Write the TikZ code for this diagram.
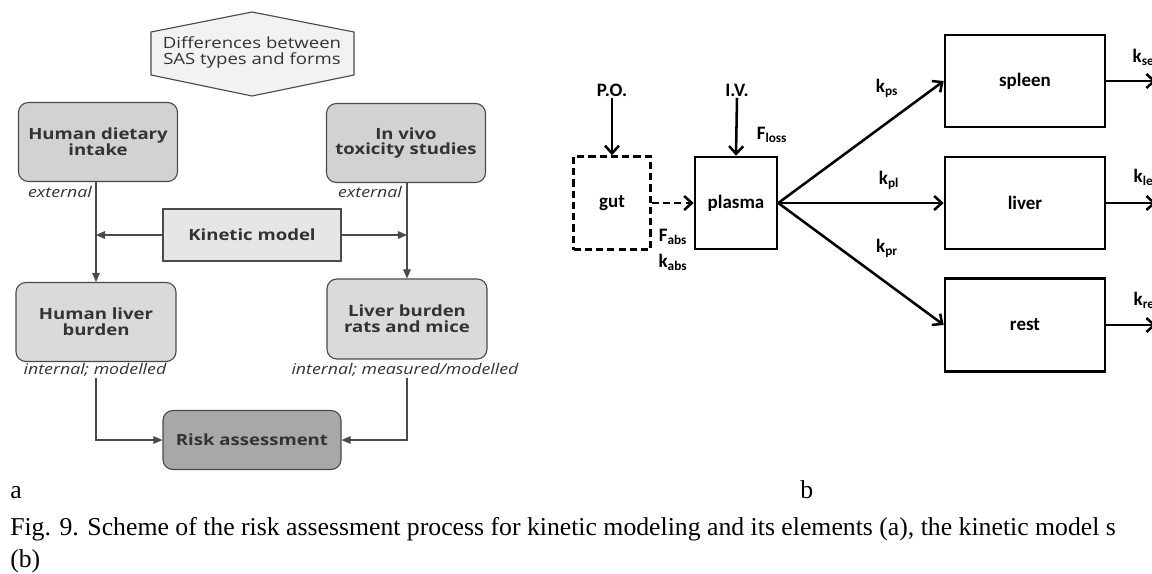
\documentclass[tikz,border=0pt]{standalone}
\usepackage{fontspec}
\setmainfont{Liberation Serif}
\newfontfamily\afont[FakeStretch=1.2]{Open Sans}
\newfontfamily\bfont{Carlito}
\usepackage{tikz}
\usetikzlibrary{arrows.meta,calc,positioning}

\newcommand{\pu}{0.025cm}
\definecolor{aline}{HTML}{4A4A4A}
\definecolor{atxt}{HTML}{333333}
\definecolor{topfill}{HTML}{D2D2D2}
\definecolor{lowfill}{HTML}{DADADA}
\definecolor{kinfill}{HTML}{E6E6E6}
\definecolor{hexfill}{HTML}{F2F2F2}
\definecolor{riskfill}{HTML}{A8A8A8}

\begin{document}
\begin{tikzpicture}[x=0.025cm,y=-0.025cm,
        abox/.style={draw=aline, line width=0.8pt, rounded corners=7pt, text=atxt, align=center,
            font=\afont\bfseries\fontsize{11}{11.3}\selectfont, inner sep=0pt},
        anote/.style={text=atxt, font=\afont\itshape\fontsize{10.5}{12}\selectfont, inner sep=1pt},
        aarrow/.style={draw=aline, line width=0.8pt, -{Triangle[length=6.5pt,width=5.5pt]}},
        bbox/.style={draw, line width=1.8pt, inner sep=0pt},
        btext/.style={font=\bfont\bfseries\fontsize{13.5}{15}\selectfont, inner sep=1pt},
        barrow/.style={line width=1.8pt, -{Straight Barb[length=5.5pt,width=10pt,line width=1.8pt]}},
        caption/.style={font=\fontsize{18.3}{22}\selectfont, inner sep=0pt}]
    \useasboundingbox (0,0) rectangle (1152,573);
    \clip (0,0) rectangle (1152,573);

    % part a
    \draw[draw=aline, line width=0.8pt, fill=hexfill] (151,32) -- (252,12) -- (354,32) -- (354,75) -- (252,96) -- (151,75) -- cycle;
    \node[text=atxt, align=center, font=\afont\fontsize{11}{11.3}\selectfont] (diff) at (252,52) {Differences between\\SAS types and forms};

    \node[abox, fill=topfill, minimum width=159*\pu, minimum height=79*\pu] (dietary) at (98,142) {Human dietary\\intake};
    \node[abox, fill=topfill, minimum width=159*\pu, minimum height=79*\pu] (invivo) at (406,143) {In vivo\\toxicity studies};
    \node[abox, fill=kinfill, rounded corners=0pt, minimum width=178*\pu, minimum height=52*\pu] (kinetic) at (252,235) {Kinetic model};
    \node[abox, fill=lowfill, minimum width=160*\pu, minimum height=79*\pu] (humliver) at (96,322) {Human liver\\burden};
    \node[abox, fill=lowfill, minimum width=160*\pu, minimum height=80*\pu] (ratliver) at (407,319) {Liver burden\\rats and mice};
    \node[abox, fill=riskfill, minimum width=178*\pu, minimum height=59*\pu] (risk) at (252,440) {Risk assessment};

    \node[anote] (extl) at (60,192) {external};
    \node[anote] (extr) at (370,192) {external};
    \node[anote] (humlab) at (95,370) {internal; modelled};
    \node[anote] (ratlab) at (405,370) {internal; measured/modelled};

    \draw[aarrow] (dietary.south -| humliver.north) -- (humliver.north);
    \draw[aarrow] (invivo.south -| ratliver.north) -- (ratliver.north);
    \draw[aarrow] (kinetic.west) -- (kinetic.west -| humliver.north);
    \draw[aarrow] (kinetic.east) -- (kinetic.east -| ratliver.north);
    \draw[aarrow] (humlab.south -| humliver.south) |- (risk.west);
    \draw[aarrow] (ratlab.south -| ratliver.south) |- (risk.east);

    % part b
    \node[bbox, dash pattern=on 5pt off 3pt, minimum width=77*\pu, minimum height=93*\pu, btext] (gut) at (612,203) {gut};
    \node[bbox, minimum width=82*\pu, minimum height=92*\pu, btext] (plasma) at (736,203) {plasma};
    \node[bbox, minimum width=160*\pu, minimum height=92*\pu, btext] (spleen) at (1025,81) {spleen};
    \node[bbox, minimum width=160*\pu, minimum height=92*\pu, btext] (liver) at (1025,203) {liver};
    \node[bbox, minimum width=160*\pu, minimum height=93*\pu, btext] (rest) at (1025,325) {rest};

    \node[btext] (po) at (612,90) {P.O.};
    \node[btext] (iv) at (737,90) {I.V.};
    \node[btext] (floss) at (772,135) {F\textsubscript{loss}};
    \node[btext] (fabs) at (673,237) {F\textsubscript{abs}};
    \node[btext] (kabs) at (673,262) {k\textsubscript{abs}};
    \node[btext] (kps) at (887,88) {k\textsubscript{ps}};
    \node[btext] (kpl) at (889,180) {k\textsubscript{pl}};
    \node[btext] (kpr) at (887,248) {k\textsubscript{pr}};
    \node[btext, anchor=west] (kse) at (1131,57) {k\textsubscript{se}};
    \node[btext, anchor=west] (kle) at (1132,177) {k\textsubscript{le}};
    \node[btext, anchor=west] (kre) at (1132,300) {k\textsubscript{re}};

    \coordinate (seout) at (1156,81);
    \coordinate (leout) at (1156,203);
    \coordinate (reout) at (1156,325);

    \draw[barrow] (po.south) -- (gut.north);
    \draw[barrow] (iv.south) -- (plasma.north);
    \draw[barrow, dash pattern=on 5pt off 3pt] (gut.east) -- (plasma.west);
    \draw[barrow] (plasma.east) -- (spleen.west);
    \draw[barrow] (plasma.east) -- (liver.west);
    \draw[barrow] (plasma.east) -- (rest.west);
    \draw[barrow] (spleen.east) -- (seout);
    \draw[barrow] (liver.east) -- (leout);
    \draw[barrow] (rest.east) -- (reout);

    % labels and caption
    \node[caption, anchor=base west] (alab) at (10,498) {a};
    \node[caption, anchor=base west] (blab) at (800,498) {b};
    \node[caption, anchor=base west] (cap1) at (10,535) {Fig. 9. Scheme of the risk assessment process for kinetic modeling and its elements (a), the kinetic model s};
    \node[caption, anchor=base west] (cap2) at (10,567) {(b)};
\end{tikzpicture}
\end{document}
